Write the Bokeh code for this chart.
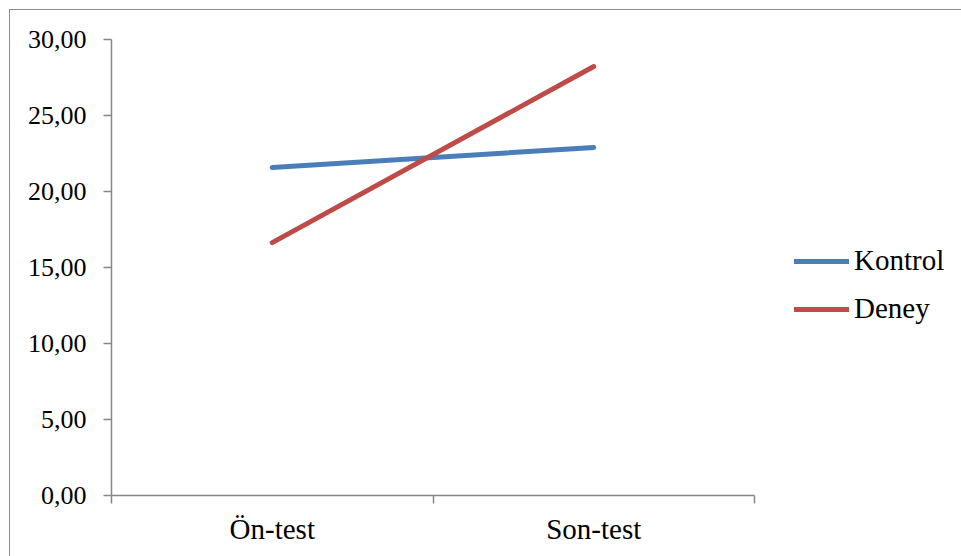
from bokeh.plotting import figure
from bokeh.models import FixedTicker, Range1d, Legend, LegendItem, ColumnDataSource
from bokeh.embed import file_html
from bokeh.resources import INLINE

categories = ["Ön-test", "Son-test"]
kontrol = [21.58, 22.90]
deney = [16.64, 28.22]
y_ticks = [0, 5, 10, 15, 20, 25, 30]
y_tick_labels = ["0,00", "5,00", "10,00", "15,00", "20,00", "25,00", "30,00"]
series_names = ["Kontrol", "Deney"]
colors = ["#4A7EBB", "#BE4B48"]

FONT = "Liberation Serif"
AX = "#868686"

n = len(categories)
xs = [i + 0.5 for i in range(n)]

# plot area extends to the right edge so that the legend lives inside it;
# the x axis line is bounded to the category span
W, H = 952, 547
LEFT, TOP, BOTTOM = 101, 29, 62
frame_w = W - LEFT
axis_w = 643
x_end = n * frame_w / axis_w

p = figure(width=W, height=H, output_backend="svg", toolbar_location=None,
           x_range=Range1d(0, x_end), y_range=Range1d(0, 30),
           min_border_left=LEFT, min_border_top=TOP, min_border_right=0,
           min_border_bottom=BOTTOM)
p.styles = {"margin-left": "9px", "margin-top": "9px",
            "border-top": "1px solid #8c8c8c", "border-left": "1px solid #8c8c8c"}
p.outline_line_color = None
p.grid.visible = False
p.background_fill_color = "white"
p.border_fill_color = "white"

renderers = []
for vals, col in zip([kontrol, deney], colors):
    src = ColumnDataSource(dict(x=xs, y=vals))
    r = p.line("x", "y", source=src, line_color=col, line_width=5, line_cap="round")
    renderers.append(r)

# x axis
xa = p.xaxis[0]
xa.bounds = (0, n)
xa.ticker = FixedTicker(ticks=xs, minor_ticks=list(range(n + 1)))
xa.major_label_overrides = {x: c for x, c in zip(xs, categories)}
xa.major_tick_out = 0
xa.major_tick_in = 0
xa.minor_tick_out = 8
xa.minor_tick_in = 0
xa.minor_tick_line_color = AX
xa.axis_line_color = AX
xa.axis_line_width = 1.5
xa.minor_tick_line_width = 1.5
xa.major_label_text_font = FONT
xa.major_label_text_font_size = "29px"
xa.major_label_text_color = "black"
xa.major_label_standoff = 9

# y axis
ya = p.yaxis[0]
ya.ticker = FixedTicker(ticks=y_ticks, minor_ticks=[])
ya.major_label_overrides = {t: l for t, l in zip(y_ticks, y_tick_labels)}
ya.major_tick_out = 8
ya.major_tick_in = 0
ya.major_tick_line_color = AX
ya.major_tick_line_width = 1.5
ya.axis_line_color = AX
ya.axis_line_width = 1.5
ya.major_label_text_font = FONT
ya.major_label_text_font_size = "26px"
ya.major_label_text_color = "black"
ya.major_label_standoff = 17

legend = Legend(items=[LegendItem(label=s, renderers=[r]) for s, r in zip(series_names, renderers)],
                location=(683, 170), orientation="vertical")
legend.label_text_font = FONT
legend.label_text_font_size = "29px"
legend.label_text_color = "black"
legend.glyph_width = 55
legend.glyph_height = 26
legend.label_height = 26
legend.label_standoff = 5
legend.spacing = 15
legend.padding = 0
legend.margin = 0
legend.border_line_color = None
legend.background_fill_alpha = 0
p.add_layout(legend, "center")

open("out.html", "w").write(file_html(p, INLINE))
